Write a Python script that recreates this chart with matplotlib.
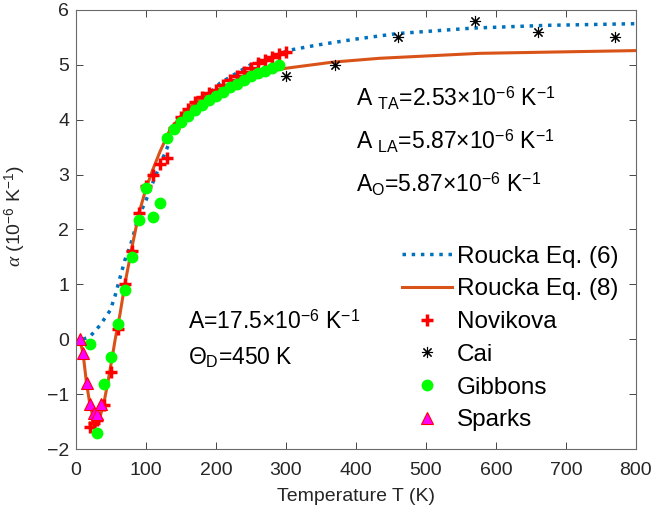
import numpy as np
import matplotlib
matplotlib.use("Agg")
import matplotlib.pyplot as plt

plt.rcParams['font.family'] = ['Liberation Sans', 'DejaVu Sans']
plt.rcParams['mathtext.fontset'] = 'custom'
plt.rcParams['mathtext.rm'] = 'Liberation Sans'
plt.rcParams['mathtext.it'] = 'Liberation Serif:italic'

# Roucka Eq. (6) curve
t_eq6 = [10, 20, 34, 49, 56, 63, 70, 77, 84, 89, 99, 113, 127, 137, 153, 177,
         206, 253, 306, 344, 400, 459, 567, 673, 800]
a_eq6 = [0.0, 0.05, 0.25, 0.53, 0.8, 1.13, 1.45, 1.68, 1.99, 2.23, 2.5, 2.96,
         3.39, 3.69, 4.0, 4.3, 4.67, 5.03, 5.27, 5.36, 5.47, 5.57, 5.67, 5.72, 5.75]

# Roucka Eq. (8) curve
t_eq8 = [5, 10, 15, 20, 25, 30, 35, 40, 46, 51, 56, 63, 70, 80, 90, 100, 110,
         120, 134, 153, 177, 215, 263, 301, 367, 434, 577, 800]
a_eq8 = [0.0, -0.25, -0.8, -1.2, -1.44, -1.5, -1.38, -1.15, -0.75, -0.38, 0.0,
         0.47, 1.02, 1.68, 2.3, 2.75, 3.1, 3.42, 3.81, 4.12, 4.39, 4.62, 4.85,
         4.94, 5.05, 5.12, 5.21, 5.26]

# measured data
t_nov = [20, 25, 30, 40, 50, 60, 70, 80, 90, 100, 110, 120, 130, 140, 150, 160,
         170, 180, 190, 200, 210, 220, 230, 240, 250, 260, 270, 280, 290, 300]
a_nov = [-1.6, -1.53, -1.48, -1.2, -0.6, 0.18, 1.0, 1.6, 2.3, 2.8, 3.0, 3.2,
         3.3, 3.85, 4.05, 4.2, 4.33, 4.42, 4.48, 4.55, 4.63, 4.72, 4.8, 4.87,
         4.95, 5.03, 5.09, 5.14, 5.2, 5.23]

t_cai = [300, 370, 460, 570, 660, 770]
a_cai = [4.8, 5.0, 5.51, 5.8, 5.6, 5.51]

t_gib = [20, 30, 40, 50, 60, 70, 80, 90, 100, 110, 120, 130, 140, 150, 160,
         170, 180, 190, 200, 210, 220, 230, 240, 250, 260, 270, 280, 290]
a_gib = [-0.09, -1.71, -0.82, -0.33, 0.27, 0.89, 1.5, 2.18, 2.76, 2.22, 2.48,
         3.67, 3.83, 3.96, 4.07, 4.18, 4.27, 4.36, 4.43, 4.51, 4.6, 4.65, 4.72,
         4.8, 4.85, 4.89, 4.95, 5.0]

t_spa = [5, 10, 15, 20, 25, 30, 35]
a_spa = [0.0, -0.25, -0.8, -1.18, -1.35, -1.37, -1.18]

fig = plt.figure(figsize=(6.68, 5.17), dpi=100)
ax = fig.add_axes([0.1138, 0.1315, 0.8382, 0.8492])

ax.plot(t_eq6, a_eq6, ':', color='#0072BD', lw=2.5, label='Roucka Eq. (6)')
ax.plot(t_eq8, a_eq8, '-', color='#D95319', lw=2.2, label='Roucka Eq. (8)')
ax.plot(t_nov, a_nov, '+', color='#FF0000', ms=9, mew=2.5, ls='none', label='Novikova')
ax.plot(t_cai, a_cai, marker=(8, 2, 0), color='#000000', ms=8, mew=0.8, ls='none', label='Cai')
ax.plot(t_gib, a_gib, 'o', color='#00FF00', mec='#00FF00', ms=7.5, ls='none', label='Gibbons')
ax.plot(t_spa, a_spa, '^', mfc='#FF00FF', mec='#FF0000', ms=9, mew=0.8, ls='none', label='Sparks')

ax.set_xlim(0, 800)
ax.set_ylim(-2, 6)
ax.set_xticks(np.arange(0, 801, 100))
ax.set_yticks(np.arange(-2, 7, 1))
ax.tick_params(direction='in', top=True, right=True, length=5, width=0.6,
               labelsize=14, colors='#262626', pad=5)
ax.tick_params(axis='x', pad=9)
for s in ax.spines.values():
    s.set_color('#6a6a6a')
    s.set_linewidth(0.8)

ax.set_xlabel('Temperature T (K)', fontsize=14, color='#262626')
ax.xaxis.set_label_coords(0.5, -0.089)
ax.set_ylabel(r'$\alpha$ (10$^{-6}$ K$^{-1}$)', fontsize=14, color='#262626')
ax.yaxis.set_label_coords(-0.0857, 0.531)

txt = dict(transform=ax.transAxes, fontsize=16.5, va='baseline', color='#000000')
ax.text(0.5, 0.781, r'A $_{\rm TA}$=2.53$\times$10$^{-6}$ K$^{-1}$', **txt)
ax.text(0.5, 0.681, r'A $_{\rm LA}$=5.87$\times$10$^{-6}$ K$^{-1}$', **txt)
ax.text(0.5, 0.583, r'A$_{\rm O}$=5.87$\times$10$^{-6}$ K$^{-1}$', **txt)
ax.text(0.2, 0.273, r'A=17.5$\times$10$^{-6}$ K$^{-1}$', **txt)
ax.text(0.2, 0.191, r'Θ$_{\rm D}$=450 K', **txt)

ax.legend(loc='upper left', bbox_to_anchor=(0.582, 0.463), frameon=False, fontsize=17.5,
          handlelength=2.05, handletextpad=0.2, labelspacing=0.44, borderaxespad=0,
          borderpad=0)

fig.savefig('out.png', dpi=100)
